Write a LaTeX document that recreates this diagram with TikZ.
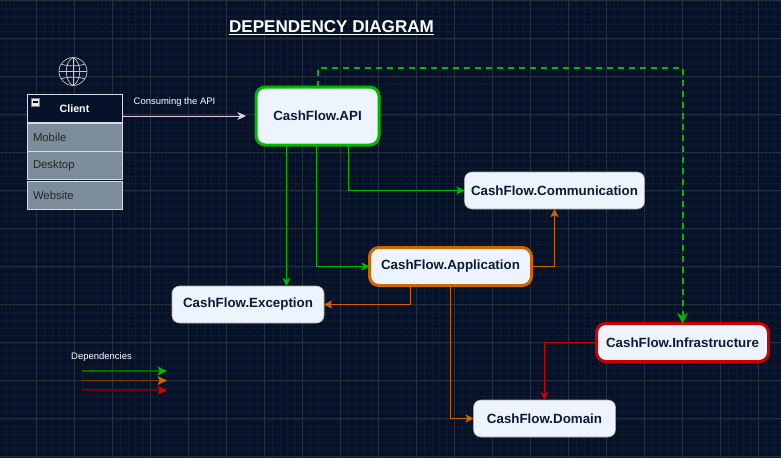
\documentclass[tikz,border=0pt]{standalone}
\usepackage{fontspec}
\setmainfont{Liberation Sans}
\usetikzlibrary{arrows.meta,calc}
\definecolor{bgc}{HTML}{06122A}
\definecolor{minorc}{HTML}{101A2D}
\definecolor{majorc}{HTML}{262F3D}
\definecolor{boxc}{HTML}{EEF4FD}
\definecolor{txtc}{HTML}{0B1A38}
\definecolor{greenc}{HTML}{00B800}
\definecolor{orangec}{HTML}{CC6600}
\definecolor{redc}{HTML}{CC0000}
\definecolor{rowc}{HTML}{7D8C9A}
\definecolor{edgec}{HTML}{D5DCE4}
\tikzset{
  x=0.75pt,y=-0.75pt,
  box/.style={draw=#1,fill=boxc,rounded corners=5.5pt,text=txtc,inner sep=0pt,outer sep=0pt,font=\fontsize{10}{11}\selectfont\bfseries},
  box/.default=gray!70,
  thick box/.style={line width=2.25pt,rounded corners=7pt},
  rowbox/.style={draw=edgec,line width=0.75pt,fill=rowc,text=black!85,inner sep=0pt,outer sep=0pt,minimum width=71.25pt,minimum height=21pt,font=\fontsize{8.5}{10}\selectfont,text width=62.25pt,align=left},
  dep/.style={draw=#1,line width=0.8pt,-{Stealth[length=6pt,width=6pt,inset=1.5pt]}},
  legend/.style={draw=#1!60!black,line width=1.2pt,-{Stealth[length=7pt,width=6.5pt,inset=1.5pt,color=#1]}},
  small label/.style={text=white,inner sep=0pt,font=\fontsize{7.1}{8}\selectfont},
}
\begin{document}
\begin{tikzpicture}
\useasboundingbox (0,0) rectangle (781,458);
\fill[bgc] (0,0) rectangle (781,458);
% grid
\foreach \i in {0,...,103} {\draw[minorc,line width=0.75pt] ({round(-1.7+7.6*\i)+.5},0) -- ({round(-1.7+7.6*\i)+.5},458);}
\foreach \i in {0,...,60} {\draw[minorc,line width=0.75pt] (0,{round(0.7+7.6*\i)+.5}) -- (781,{round(0.7+7.6*\i)+.5});}
\foreach \i in {0,...,20} {\draw[majorc,line width=0.75pt] ({36.5+38*\i},0) -- ({36.5+38*\i},458);}
\foreach \i in {0,...,12} {\draw[majorc,line width=0.75pt] (0,{0.5+38*\i}) -- (781,{0.5+38*\i});}
% title
\node[text=white,inner sep=0pt,font=\fontsize{12.8}{15}\selectfont\bfseries] (title) at (331.5,28) {\underline{DEPENDENCY DIAGRAM}};
% globe
\node[draw=white!60!gray,circle,minimum size=21pt,inner sep=0pt,outer sep=0pt,line width=0.5pt] (globe) at (73,71.5) {};
\begin{scope}[white!60!gray,line width=0.5pt]
\draw (globe.north) -- (globe.south);
\draw (globe.west) -- (globe.east);
\draw (globe.north) .. controls (64,62) and (64,81) .. (globe.south);
\draw (globe.north) .. controls (82,62) and (82,81) .. (globe.south);
\draw (61,64) .. controls (68,66.5) and (78,66.5) .. (85,64);
\draw (61,79) .. controls (68,76.5) and (78,76.5) .. (85,79);
\end{scope}
% client
\node[draw=edgec,line width=0.75pt,fill=bgc,text=white,inner sep=0pt,outer sep=0pt,minimum width=71.25pt,minimum height=20.5pt,font=\fontsize{8}{10}\selectfont\bfseries] (client) at (74.5,108.5) {Client};
\node[rowbox] (mobile) at (74.5,137) {Mobile};
\node[rowbox] (desktop) at (74.5,165.5) {Desktop};
\node[rowbox] (website) at (74.5,195) {Website};
\node[draw=gray,fill=white!85!gray,minimum size=6pt,inner sep=0pt,outer sep=0pt,line width=0.3pt] (minus) at (35.5,102) {};
\draw[black,line width=0.8pt] ($(minus.west)+(1.5,0)$) -- ($(minus.east)+(-1.5,0)$);
% boxes
\node[box=greenc,thick box,minimum width=92.25pt,minimum height=43.5pt] (api) at (317.5,116) {CashFlow.API};
\node[box,minimum width=135pt,minimum height=27.75pt] (comm) at (554.5,190.5) {CashFlow.Communication};
\node[box=orangec,thick box,minimum width=121.5pt,minimum height=28.5pt] (app) at (450.5,266.5) {CashFlow.Application};
\node[box,minimum width=114pt,minimum height=27.75pt] (exc) at (248,304.5) {CashFlow.Exception};
\node[box=redc,thick box,minimum width=129pt,minimum height=28.5pt] (infra) at (682.5,342.5) {CashFlow.Infrastructure};
\node[box,minimum width=106.5pt,minimum height=27.75pt] (dom) at (544.5,418.5) {CashFlow.Domain};
% connectors
\coordinate (apiA) at ($(api.south west)!0.248!(api.south east)$);
\coordinate (apiB) at ($(api.south west)!0.492!(api.south east)$);
\coordinate (apiC) at ($(api.south west)!0.752!(api.south east)$);
\coordinate (excN) at ($(exc.north west)!0.75!(exc.north east)$);
\coordinate (appA) at ($(app.south west)!0.253!(app.south east)$);
\coordinate (top) at (500,68);
\draw[dep=greenc] (apiA) -- (apiA |- excN);
\draw[dep=greenc] (apiB) |- (app.west);
\draw[dep=greenc] (apiC) |- (comm.west);
\draw[dep=orangec] (app.east) -| (comm.south);
\draw[dep=orangec] (appA) |- (exc.east);
\draw[dep=orangec] (app.south) |- (dom.west);
\draw[dep=redc] (infra.west) -| (dom.north);
\draw[draw=greenc,line width=1.5pt,dash pattern=on 4.5pt off 3.75pt,-{Stealth[length=8pt,width=8pt,inset=2.5pt]}] (api.north) |- (top) -| (infra.north);
\coordinate (cstart) at (client.east |- api.west);
\draw[draw=white!80!violet,line width=0.7pt,shorten >=7.5pt,-{Stealth[length=6.5pt,width=6pt,inset=2pt]}] (cstart) -- (api.west);
\node[small label] (consume) at (174.5,102) {Consuming the API};
% legend
\node[small label] (leg) at (101.5,357) {Dependencies};
\coordinate (l1a) at (82,371); \coordinate (l1b) at (167,371);
\coordinate (l2a) at (82,380.5); \coordinate (l2b) at (167,380.5);
\coordinate (l3a) at (82,390); \coordinate (l3b) at (167,390);
\draw[legend=greenc] (l1a) -- (l1b);
\draw[legend=orangec] (l2a) -- (l2b);
\draw[legend=redc] (l3a) -- (l3b);
\end{tikzpicture}
\end{document}
